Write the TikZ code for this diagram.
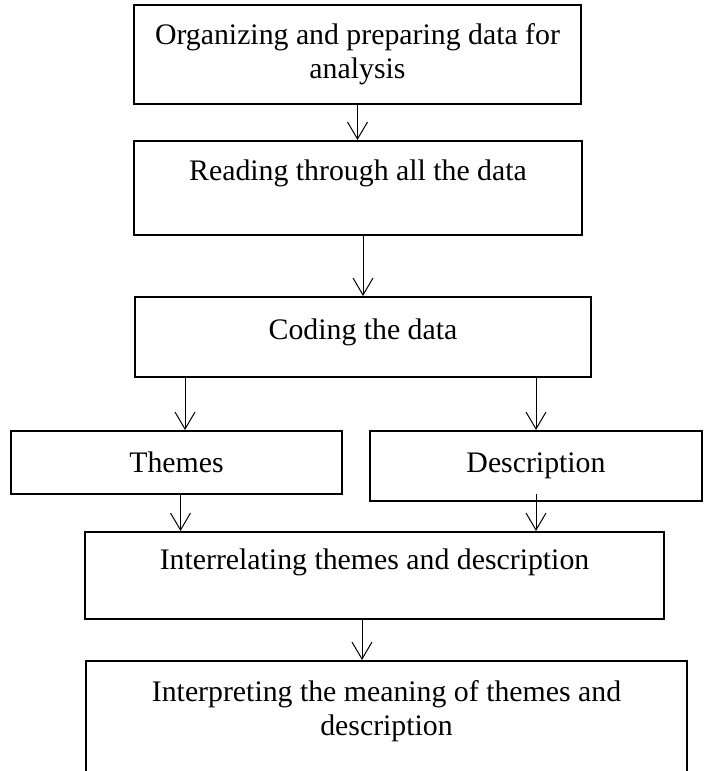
\documentclass[tikz,border=0pt]{standalone}
\usepackage{fontspec}
\setmainfont{Liberation Serif}
\usetikzlibrary{arrows.meta}

\tikzset{
  stage/.style={draw,line width=1pt,align=center,inner sep=0pt,
    font=\fontsize{14.9}{17}\selectfont},
  flow/.style={-{Straight Barb[length=8.5pt,width=10pt]},line width=0.5pt}
}

\begin{document}
\begin{tikzpicture}[x=0.5pt,y=-0.5pt]
\useasboundingbox (0,0) rectangle (703,771);

\node[stage,minimum width=223.5pt,minimum height=49.5pt] at (357.5,54.5) (organize)
  {Organizing and preparing data for\\analysis};
\node[stage,minimum width=224pt,minimum height=47pt,text depth=17.5pt] at (358,188) (reading)
  {Reading through all the data};
\node[stage,minimum width=228pt,minimum height=40pt,text depth=8.2pt] at (363,337) (coding)
  {Coding the data};
\node[stage,minimum width=165.5pt,minimum height=31.5pt] at (176.5,462.5) (themes)
  {Themes};
\node[stage,minimum width=166pt,minimum height=35pt] at (536,466) (descr)
  {Description};
\node[stage,minimum width=289.5pt,minimum height=43.5pt,text depth=16.7pt] at (374.5,575.5) (interrelate)
  {Interrelating themes and description};
\node[stage,minimum width=300.5pt,minimum height=64pt,text depth=17pt] at (386.5,725) (interpret)
  {Interpreting the meaning of themes and\\description};

\draw[flow] (organize.south) -- (organize.south |- reading.north);
\draw[flow] (coding.north |- reading.south) -- (coding.north);
\draw[flow] ([xshift=4.25pt]themes.north |- coding.south) -- ([xshift=4.25pt]themes.north);
\draw[flow] (descr.north |- coding.south) -- (descr.north);
\draw[flow] ([xshift=2pt]themes.south) -- ([xshift=2pt]themes.south |- interrelate.north);
\draw[flow] ([yshift=4pt]descr.south) -- (descr.south |- interrelate.north);
\draw[flow] ([xshift=-6.25pt]interrelate.south) -- ([xshift=-6.25pt]interrelate.south |- interpret.north);
\end{tikzpicture}
\end{document}
